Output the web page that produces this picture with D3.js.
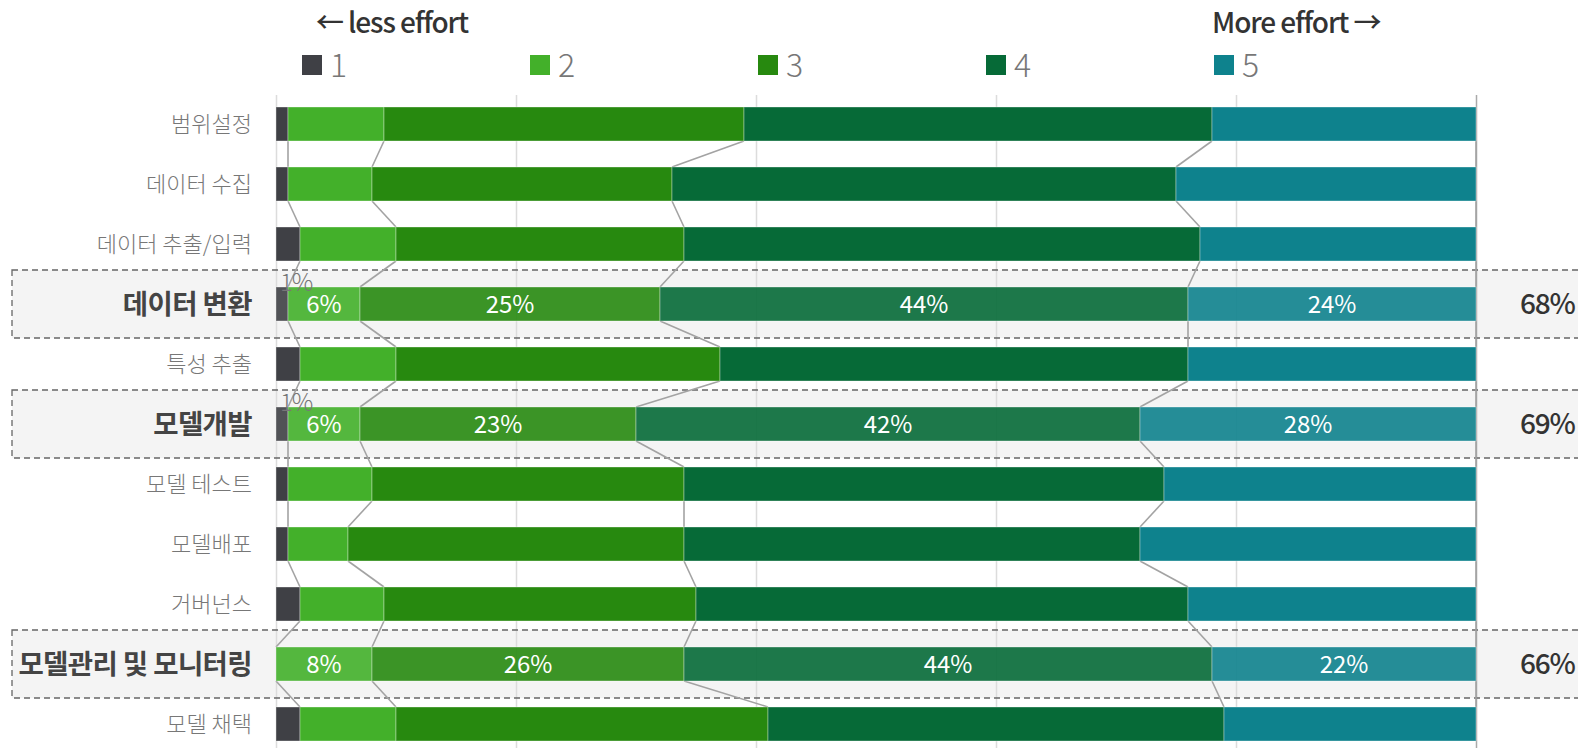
<!DOCTYPE html>
<html>
<head>
<meta charset="utf-8">
<script src="https://cdn.jsdelivr.net/npm/d3@7.9.0/dist/d3.min.js"></script>
<style>
  html, body { margin: 0; padding: 0; background: #fff; overflow: hidden; }
  svg { display: block; font-family: "Noto Sans CJK KR", "Noto Sans", sans-serif; }
</style>
</head>
<body>
<div id="chart"></div>
<script>
// DATA
const categories = ['범위설정', '데이터 수집', '데이터 추출/입력', '데이터 변환', '특성 추출',
  '모델개발', '모델 테스트', '모델배포', '거버넌스', '모델관리 및 모니터링', '모델 채택'];
const levels = ['1', '2', '3', '4', '5'];
const level1 = [1, 1, 2, 1, 2, 1, 1, 1, 2, 0, 2];
const level2 = [8, 7, 8, 6, 8, 6, 7, 5, 7, 8, 8];
const level3 = [30, 25, 24, 25, 27, 23, 26, 28, 26, 26, 31];
const level4 = [39, 42, 43, 44, 39, 42, 40, 38, 41, 44, 38];
const level5 = [22, 25, 23, 24, 24, 28, 26, 28, 24, 22, 21];
const highlighted = ['데이터 변환', '모델개발', '모델관리 및 모니터링'];
const highlightTotals = ['68%', '69%', '66%'];
const gridTicks = [0, 20, 40, 60, 80, 100];

const colors = ['#3f4045', '#43b02a', '#27890f', '#066a37', '#0e828d'];

const width = 1578;
const height = 748;

const rows = categories.map((name, i) => {
  const vals = [level1[i], level2[i], level3[i], level4[i], level5[i]];
  let acc = 0;
  const segs = vals.map((v, k) => {
    const s = { key: k, value: v, x0: acc, x1: acc + v, name };
    acc += v;
    return s;
  });
  return { name, segs, hi: highlighted.includes(name) };
});

const svg = d3.select('#chart').append('svg')
  .attr('width', width)
  .attr('height', height);

const x = d3.scaleLinear().domain([0, 100]).range([276, 1476]);
const y = d3.scaleBand().domain(categories).range([94, 754])
  .paddingInner(26 / 60).paddingOuter(13 / 60);
const bh = y.bandwidth();

// HIGHLIGHT BACKGROUNDS
const hiRows = rows.filter(r => r.hi);
svg.append('g').selectAll('rect')
  .data(hiRows)
  .join('rect')
  .attr('x', 12)
  .attr('y', d => y(d.name) + bh / 2 - 34)
  .attr('width', 1620)
  .attr('height', 68)
  .attr('fill', '#f4f4f4');

// GRID
const grid = svg.append('g')
  .attr('transform', 'translate(0,95)')
  .call(d3.axisBottom(x).tickValues(gridTicks).tickSize(height - 95).tickFormat(''));
grid.select('.domain').remove();
grid.selectAll('line')
  .attr('stroke', d => d === 100 ? '#aaa' : '#dcdcdc')
  .attr('stroke-width', 1.5);

// DASHED BORDERS
svg.append('g').selectAll('rect')
  .data(hiRows)
  .join('rect')
  .attr('x', 12)
  .attr('y', d => y(d.name) + bh / 2 - 34)
  .attr('width', 1620)
  .attr('height', 68)
  .attr('fill', 'none')
  .attr('stroke', '#666')
  .attr('stroke-width', 1.3)
  .attr('stroke-dasharray', '6 4');

// CONNECTORS
const links = [];
for (let i = 0; i < rows.length - 1; i++) {
  for (let k = 0; k < 5; k++) {
    links.push({
      a: rows[i].segs[k].x1, b: rows[i + 1].segs[k].x1,
      ya: y(rows[i].name) + bh, yb: y(rows[i + 1].name)
    });
  }
}
svg.append('g').selectAll('line')
  .data(links)
  .join('line')
  .attr('x1', d => x(d.a))
  .attr('x2', d => x(d.b))
  .attr('y1', d => d.ya)
  .attr('y2', d => d.yb)
  .attr('stroke', '#a3a3a3')
  .attr('stroke-width', 1.6);

// BARS
const rowG = svg.append('g').selectAll('g')
  .data(rows)
  .join('g')
  .attr('transform', d => `translate(0,${y(d.name)})`);

rowG.selectAll('rect')
  .data(d => d.segs.filter(s => s.value > 0).map(s => ({ ...s, hi: d.hi })))
  .join('rect')
  .attr('x', d => x(d.x0))
  .attr('width', d => x(d.x1) - x(d.x0))
  .attr('height', bh)
  .attr('fill', d => colors[d.key])
  .attr('fill-opacity', d => d.hi ? 0.9 : 1)
  .attr('stroke', 'rgba(255,255,255,0.35)')
  .attr('stroke-width', 1);

// VALUE LABELS (highlighted rows)
rowG.filter(d => d.hi).selectAll('text.val')
  .data(d => d.segs.filter(s => s.key > 0 && s.value > 0))
  .join('text')
  .attr('class', 'val')
  .attr('x', d => x((d.x0 + d.x1) / 2))
  .attr('y', bh / 2)
  .attr('dy', '0.36em')
  .attr('text-anchor', 'middle')
  .attr('fill', '#fff')
  .style('font-size', '24px')
  .text(d => d.value + '%');

rowG.filter(d => d.hi).selectAll('text.small')
  .data(d => d.segs.filter(s => s.key === 0 && s.value > 0))
  .join('text')
  .attr('class', 'small')
  .attr('x', d => x(d.x0) + 4)
  .attr('y', 4)
  .attr('fill', '#777')
  .style('font-size', '24px')
  .style('font-weight', 300)
  .style('letter-spacing', '-1px')
  .text(d => d.value + '%');

// CATEGORY LABELS
rowG.append('text')
  .attr('x', 252)
  .attr('y', bh / 2)
  .attr('dy', '0.36em')
  .attr('text-anchor', 'end')
  .attr('fill', d => d.hi ? '#444' : '#777')
  .style('font-size', d => d.hi ? '27.5px' : '22px')
  .style('font-weight', d => d.hi ? 700 : 300)
  .style('letter-spacing', d => d.hi ? '-0.6px' : '0px')
  .text(d => d.name);

// RIGHT TOTALS
svg.append('g').selectAll('text')
  .data(hiRows)
  .join('text')
  .attr('x', 1520)
  .attr('y', d => y(d.name) + bh / 2)
  .attr('dy', '0.36em')
  .attr('fill', '#333')
  .style('font-size', '28px')
  .style('font-weight', 500)
  .style('letter-spacing', '-1.2px')
  .text((d, i) => highlightTotals[i]);

// LEGEND
const leg = svg.append('g').selectAll('g')
  .data(levels)
  .join('g')
  .attr('transform', (d, i) => `translate(${302 + i * 228},55)`);
leg.append('rect')
  .attr('width', 20)
  .attr('height', 20)
  .attr('fill', (d, i) => colors[i]);
leg.append('text')
  .attr('x', 28)
  .attr('y', 10)
  .attr('dy', '0.36em')
  .attr('fill', '#777')
  .style('font-size', '32px')
  .style('font-weight', 300)
  .text(d => d);

// EFFORT TITLES
svg.append('text')
  .attr('x', 316)
  .attr('y', 33)
  .attr('fill', '#333')
  .style('font-size', '28px')
  .style('font-weight', 500)
  .style('letter-spacing', '-1.1px')
  .text('← less effort');

svg.append('text')
  .attr('x', 1212)
  .attr('y', 33)
  .attr('fill', '#333')
  .style('font-size', '28px')
  .style('font-weight', 500)
  .style('letter-spacing', '-1.1px')
  .text('More effort →');
</script>
</body>
</html>
